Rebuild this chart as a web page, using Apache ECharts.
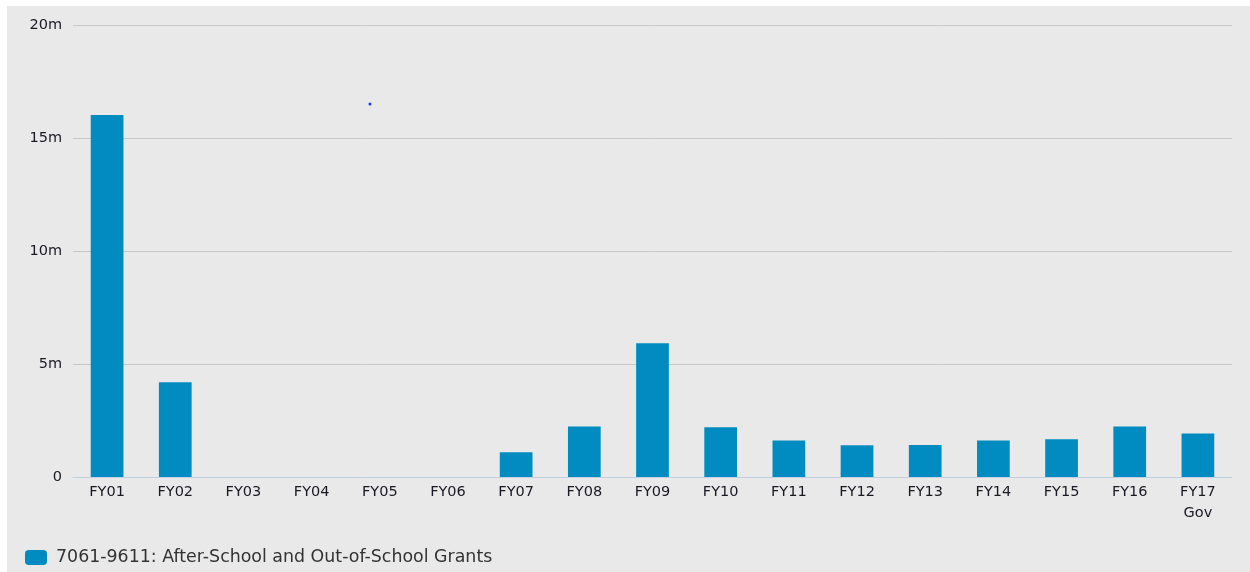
<!DOCTYPE html>
<html><head><meta charset="utf-8">
<script src="https://cdn.jsdelivr.net/npm/echarts@6/dist/echarts.min.js"></script>
<style>
html,body{margin:0;padding:0;background:#fff;}
#bg{position:absolute;left:7px;top:6px;width:1243px;height:566px;background:#e9e9e9;}
#c{position:absolute;left:0;top:0;width:1250px;height:572px;}
</style></head>
<body><div id="bg"></div><div id="c"></div>
<script>
const categories = ["FY01","FY02","FY03","FY04","FY05","FY06","FY07","FY08","FY09","FY10","FY11","FY12","FY13","FY14","FY15","FY16","FY17\nGov"];
const values = [16020000,4190000,0,0,0,0,1090000,2240000,5920000,2200000,1610000,1400000,1420000,1610000,1670000,2240000,1930000];
const seriesName = "7061-9611: After-School and Out-of-School Grants";
const yTicks = {min:0, max:20000000, interval:5000000};

const chart = echarts.init(document.getElementById('c'));
const font = "'DejaVu Sans', Verdana, sans-serif";
chart.setOption({
  animation:false,
  backgroundColor:'transparent',
  grid:{left:73,right:18,top:25,bottom:95,containLabel:false},
  legend:{left:25,top:549,padding:0,itemWidth:22,itemHeight:15,itemGap:8,icon:'roundRect',
    textStyle:{fontFamily:font,fontSize:17.4,color:'#333',padding:[0,0,0,4]}, data:[seriesName]},
  xAxis:{type:'category',data:categories,
    axisLine:{lineStyle:{color:'#c0d0e0',width:1}},axisTick:{show:false},
    axisLabel:{interval:0,color:'#1a1a24',fontFamily:font,fontSize:14.5,margin:5,lineHeight:21}},
  yAxis:{type:'value',min:yTicks.min,max:yTicks.max,interval:yTicks.interval,
    axisLine:{show:false},axisTick:{show:false},
    splitLine:{lineStyle:{color:'#c8c8c8',width:1}},
    axisLabel:{color:'#1a1a24',fontFamily:font,fontSize:14.5,margin:11,
      formatter:v=>v===0?'0':(v/1e6)+'m'}},
  series:[{name:seriesName,type:'bar',data:values,barWidth:'48%',
    itemStyle:{color:'#008cc1',borderWidth:0}}],
  graphic:[{type:'circle',shape:{cx:370,cy:104,r:1.5},style:{fill:'#2030ff'}}]
});
</script></body></html>
